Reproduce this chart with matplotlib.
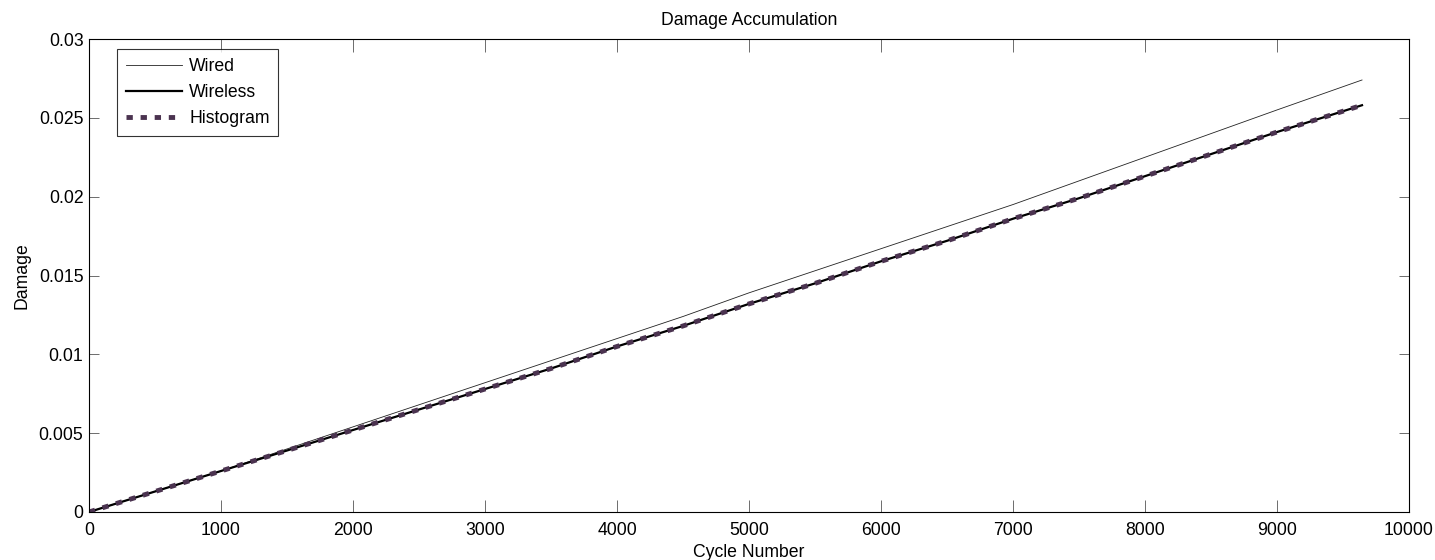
import matplotlib
matplotlib.use("Agg")
import matplotlib.pyplot as plt
import numpy as np

plt.rcParams['font.family'] = ['Liberation Sans', 'DejaVu Sans']

cycles = [0, 500, 1000, 1500, 2000, 2500, 3000, 3500, 4000, 4500, 5000,
          5500, 6000, 6500, 7000, 7500, 8000, 8500, 9000, 9644]
wired = [0, 0.0013, 0.0026, 0.0040, 0.0054, 0.0068, 0.0082, 0.0096, 0.0110,
         0.0124, 0.0139, 0.0153, 0.0167, 0.0181, 0.0195, 0.0210, 0.0225,
         0.0240, 0.0255, 0.0274]
wireless = [0, 0.0013, 0.0026, 0.0039, 0.0052, 0.0065, 0.0078, 0.0091, 0.0105,
            0.0118, 0.0132, 0.0145, 0.0159, 0.0172, 0.0186, 0.0199, 0.0213,
            0.0227, 0.0241, 0.0258]
histogram = [0, 0.0013, 0.0026, 0.0039, 0.0052, 0.0065, 0.0078, 0.0091, 0.0105,
             0.0118, 0.0132, 0.0145, 0.0159, 0.0172, 0.0186, 0.0199, 0.0213,
             0.0227, 0.0241, 0.0258]

xticks = [0, 1000, 2000, 3000, 4000, 5000, 6000, 7000, 8000, 9000, 10000]
yticks = [0, 0.005, 0.01, 0.015, 0.02, 0.025, 0.03]
yticklabels = ['0', '0.005', '0.01', '0.015', '0.02', '0.025', '0.03']

FS = 12.7

fig = plt.figure(figsize=(14.35, 5.6), dpi=100)
ax = fig.add_axes([89/1435, 48/560, 1320/1435, 473/560])

ax.plot(cycles, wired, color='#222222', lw=0.6, label='Wired')
ax.plot(cycles, wireless, color='black', lw=1.6, label='Wireless')
ax.plot(cycles, histogram, color='#4B3350', lw=3.5, linestyle=(0, (1.3, 1.6)),
        dash_capstyle='butt', label='Histogram')

ax.set_xlim(0, 10000)
ax.set_ylim(0, 0.03)
ax.set_xticks(xticks)
ax.set_xticklabels([str(t) for t in xticks])
ax.set_yticks(yticks)
ax.set_yticklabels(yticklabels)
ax.tick_params(axis='x', direction='in', length=9, width=0.6, top=True,
               labelsize=FS, color='#555555', pad=7)
ax.tick_params(axis='y', direction='in', length=7, width=0.6, right=True,
               labelsize=FS, color='#555555', pad=4)
for s in ax.spines.values():
    s.set_linewidth(0.8)

ax.set_title('Damage Accumulation', fontsize=FS, pad=10)
ax.set_xlabel('Cycle Number', fontsize=FS, labelpad=4)
ax.set_ylabel('Damage', fontsize=FS, labelpad=6)

leg = ax.legend(loc='upper left', bbox_to_anchor=(0.021, 0.978), borderaxespad=0,
                fontsize=FS, handlelength=3.2, frameon=True, fancybox=False,
                edgecolor='black', labelspacing=0.5, handletextpad=0.4,
                borderpad=0.5)
leg.get_frame().set_linewidth(0.8)

fig.savefig('out.png', dpi=100)
